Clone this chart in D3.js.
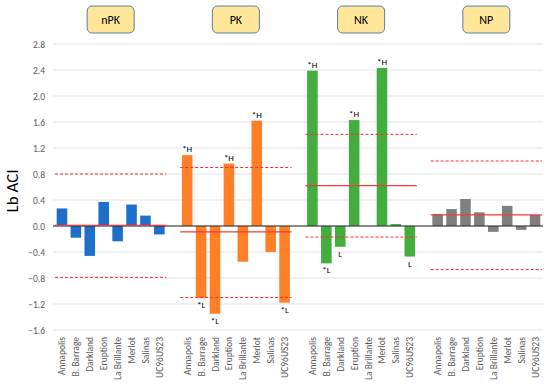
<!DOCTYPE html>
<html lang="en">
<head>
  <meta charset="UTF-8" />
  <title>Lb ACI</title>
  <script src="https://d3js.org/d3.v7.min.js"></script>
  <style>
    body { margin: 0; background: #fff; }
    text { font-family: Calibri, Carlito, "Open Sans", "Liberation Sans", Arial, sans-serif; }
  </style>
</head>
<body>
<div id="chart"></div>
<script>
// cultivars (same for every panel)
var cultivars = ["Annapolis", "B. Barrage", "Darkland", "Eruption", "La Brillante", "Merlot", "Salinas", "UC96US23"];
var groups = ["nPK", "PK", "NK", "NP"];
var colors = ["#1f6fc9", "#ff7f27", "#43ad3e", "#7f7f7f"];

// Lb ACI values
var nPK = [0.27, -0.18, -0.46, 0.37, -0.235, 0.33, 0.16, -0.13];
var PK  = [1.09, -1.11, -1.35, 0.96, -0.55, 1.62, -0.40, -1.18];
var NK  = [2.39, -0.575, -0.32, 1.63, 0.0, 2.43, 0.03, -0.47];
var NP  = [0.185, 0.26, 0.415, 0.21, -0.09, 0.31, -0.06, 0.17];
var values = [nPK, PK, NK, NP];

// mean line and lower / upper limits per group
var means = [0.01, -0.09, 0.62, 0.17];
var lower = [-0.79, -1.10, -0.17, -0.67];
var upper = [0.80, 0.90, 1.41, 1.00];

// significance labels ("" = none)
var marks = [
  ["", "", "", "", "", "", "", ""],
  ["*H", "*L", "*L", "*H", "", "*H", "", "*L"],
  ["*H", "*L", "L", "*H", "", "*H", "", "L"],
  ["", "", "", "", "", "", "", ""]
];

var yTicks = [2.8, 2.4, 2.0, 1.6, 1.2, 0.8, 0.4, 0.0, -0.4, -0.8, -1.2, -1.6];

var width = 550, height = 386;
var svg = d3.select("#chart").append("svg")
  .attr("width", width).attr("height", height);

// one slot per bar, plus an empty slot between groups
var slots = [];
groups.forEach(function(g, gi) {
  cultivars.forEach(function(c) { slots.push(g + "|" + c); });
  if (gi < groups.length - 1) slots.push("gap" + gi);
});

var x = d3.scaleBand().domain(slots).range([55, 542]).paddingInner(0.24).paddingOuter(0.12);
var y = d3.scaleLinear().domain([-1.6, 2.8]).range([330, 44]);
var step = x.step();

// gridlines
svg.append("g").selectAll("line").data(yTicks).enter().append("line")
  .attr("x1", 53).attr("x2", 543)
  .attr("y1", function(d) { return y(d); }).attr("y2", function(d) { return y(d); })
  .attr("stroke", "#e3e3e3").attr("stroke-width", 1);

// y axis labels
var yAxis = svg.append("g").attr("transform", "translate(47,0)")
  .call(d3.axisLeft(y).tickValues(yTicks).tickSize(0).tickPadding(2).tickFormat(d3.format(".1f")));
yAxis.select(".domain").remove();
yAxis.selectAll("text").attr("fill", "#595959").style("font-size", "9.5px");

svg.append("text")
  .attr("transform", "translate(18,191) rotate(-90)")
  .attr("text-anchor", "middle")
  .style("font-size", "17px").attr("fill", "#000")
  .text("Lb ACI");

// bars
var data = [];
groups.forEach(function(g, gi) {
  cultivars.forEach(function(c, ci) {
    data.push({ key: g + "|" + c, group: gi, cultivar: c, value: values[gi][ci], mark: marks[gi][ci] });
  });
});

svg.append("g").selectAll("rect").data(data).enter().append("rect")
  .attr("x", function(d) { return x(d.key); })
  .attr("width", x.bandwidth())
  .attr("y", function(d) { return y(Math.max(0, d.value)); })
  .attr("height", function(d) { return Math.abs(y(d.value) - y(0)); })
  .attr("fill", function(d) { return colors[d.group]; });

// zero line
svg.append("line")
  .attr("x1", 53).attr("x2", 543).attr("y1", y(0)).attr("y2", y(0))
  .attr("stroke", "#262626").attr("stroke-width", 1.2);

// mean and limit lines per group
groups.forEach(function(g, gi) {
  var x0 = x(g + "|" + cultivars[0]) - (step - x.bandwidth()) / 2;
  var x1 = x(g + "|" + cultivars[cultivars.length - 1]) + x.bandwidth() + (step - x.bandwidth()) / 2;
  svg.append("line").attr("x1", x0).attr("x2", x1)
    .attr("y1", y(means[gi])).attr("y2", y(means[gi]))
    .attr("stroke", "#f23a3a").attr("stroke-width", 1.3);
  [lower[gi], upper[gi]].forEach(function(v) {
    svg.append("line").attr("x1", x0).attr("x2", x1)
      .attr("y1", y(v)).attr("y2", y(v))
      .attr("stroke", "#ff2a2a").attr("stroke-width", 1)
      .attr("stroke-dasharray", "3,2");
  });

  // group title box
  var cx = (x0 + x1) / 2;
  svg.append("rect").attr("x", cx - 23.5).attr("y", 6).attr("width", 47).attr("height", 27)
    .attr("rx", 5).attr("fill", "#ffe699").attr("stroke", "#5b7ea6").attr("stroke-width", 1);
  svg.append("text").attr("x", cx).attr("y", 24).attr("text-anchor", "middle")
    .style("font-size", "12px").attr("fill", "#000").text(g);
});

// significance labels
svg.append("g").selectAll("text").data(data.filter(function(d) { return d.mark; })).enter().append("text")
  .attr("x", function(d) { return x(d.key) + x.bandwidth() / 2; })
  .attr("y", function(d) { return d.value >= 0 ? y(d.value) - 3 : y(d.value) + 10; })
  .attr("text-anchor", "middle")
  .style("font-size", "9px").attr("fill", "#000")
  .text(function(d) { return d.mark; });

// x labels, rotated
svg.append("g").selectAll("text").data(data).enter().append("text")
  .attr("transform", function(d) {
    return "translate(" + (x(d.key) + x.bandwidth() / 2 + 3.5) + ",337) rotate(-90)";
  })
  .attr("text-anchor", "end")
  .style("font-size", "9.5px").attr("fill", "#595959")
  .text(function(d) { return d.cultivar; });
</script>
</body>
</html>
